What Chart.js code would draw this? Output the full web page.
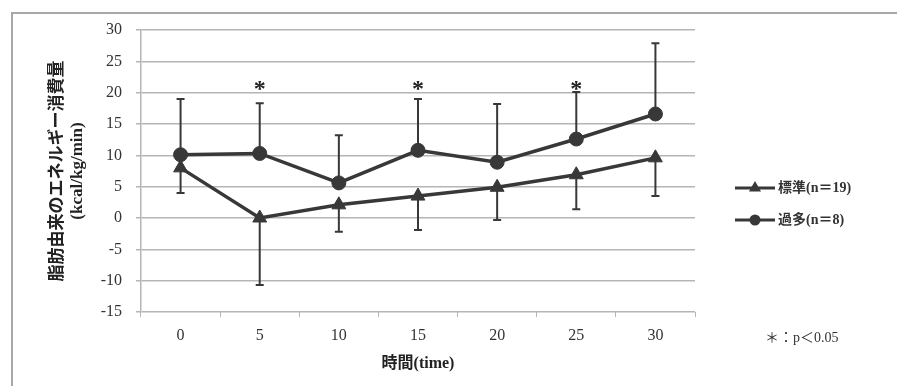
<!DOCTYPE html>
<html lang="ja">

<head>
    <meta charset="UTF-8">
    <title>脂肪由来のエネルギー消費量</title>
    <style>
        * {
            margin: 0;
            padding: 0;
            box-sizing: border-box;
        }

        body {
            background-color: #fff;
            width: 897px;
            height: 386px;
            overflow: hidden;
            position: relative;
        }

        .frame {
            position: absolute;
            left: 11px;
            top: 12px;
            right: 0;
            bottom: 0;
            border-top: 2px solid #a8a8a8;
            border-left: 2px solid #a8a8a8;
        }

        #chartWrap {
            position: absolute;
            left: 0;
            top: 0;
            width: 897px;
            height: 386px;
        }
    </style>
</head>

<body>
    <div class="frame"></div>
    <div id="chartWrap"><canvas id="fatChart"></canvas></div>

    <script src="https://cdn.jsdelivr.net/npm/chart.js"></script>
    <script>
        // 時間(分)
        const timeLabels = ['0', '5', '10', '15', '20', '25', '30'];
        // 標準群 平均と標準偏差(下向きの誤差棒)
        const standardMean = [8.0, 0.0, 2.1, 3.5, 4.9, 6.9, 9.6];
        const standardSD = [4.0, 10.7, 4.3, 5.4, 5.2, 5.5, 6.1];
        // 過多群 平均と標準偏差(上向きの誤差棒)
        const overMean = [10.1, 10.3, 5.6, 10.8, 8.9, 12.6, 16.6];
        const overSD = [8.9, 8.0, 7.6, 8.2, 9.3, 7.5, 11.3];
        // 有意差のある時点
        const sigTimes = ['5', '15', '25'];
        const sigLevel = 21.3;
        const yTicks = [30, 25, 20, 15, 10, 5, 0, -5, -10, -15];

        const lineColor = '#383838';
        const serif = '"Liberation Serif", "Noto Sans CJK JP", serif';

        // 誤差棒と＊を描く
        const errorBarPlugin = {
            id: 'errorBars',
            beforeDatasetsDraw(chart) {
                const ctx = chart.ctx;
                const x = chart.scales.x;
                const y = chart.scales.y;
                const bars = [
                    { mean: standardMean, sd: standardSD, dir: -1 },
                    { mean: overMean, sd: overSD, dir: 1 }
                ];
                ctx.save();
                ctx.strokeStyle = lineColor;
                ctx.lineWidth = 2;
                bars.forEach(b => {
                    b.mean.forEach((m, i) => {
                        const px = x.getPixelForValue(i);
                        const y0 = y.getPixelForValue(m);
                        const y1 = y.getPixelForValue(m + b.dir * b.sd[i]);
                        ctx.beginPath();
                        ctx.moveTo(px, y0);
                        ctx.lineTo(px, y1);
                        ctx.moveTo(px - 4, y1);
                        ctx.lineTo(px + 4, y1);
                        ctx.stroke();
                    });
                });
                ctx.fillStyle = '#222';
                ctx.font = 'bold 24px "Liberation Serif"';
                ctx.textAlign = 'center';
                ctx.textBaseline = 'middle';
                sigTimes.forEach(t => {
                    const px = x.getPixelForValue(timeLabels.indexOf(t));
                    ctx.fillText('*', px, y.getPixelForValue(sigLevel) + 5);
                });
                ctx.restore();
            },
            afterDraw(chart) {
                const ctx = chart.ctx;
                const area = chart.chartArea;
                const lx = area.right + 40;
                const items = chart.data.datasets.map((ds, i) => ({
                    text: ds.label,
                    style: ds.pointStyle,
                    y: 188 + i * 32
                }));
                ctx.save();
                items.forEach(it => {
                    ctx.strokeStyle = lineColor;
                    ctx.fillStyle = lineColor;
                    ctx.lineWidth = 3;
                    ctx.beginPath();
                    ctx.moveTo(lx, it.y);
                    ctx.lineTo(lx + 40, it.y);
                    ctx.stroke();
                    Chart.helpers.drawPoint(ctx, {
                        pointStyle: it.style,
                        radius: 4,
                        borderWidth: 1
                    }, lx + 20, it.y);
                    ctx.fillStyle = '#333';
                    ctx.font = 'bold 14px ' + serif;
                    ctx.textAlign = 'left';
                    ctx.textBaseline = 'middle';
                    ctx.fillText(it.text, lx + 43, it.y);
                });
                ctx.font = '14px ' + serif;
                ctx.fillStyle = '#333';
                ctx.fillText('＊：p＜0.05', lx + 30, 338);
                ctx.restore();
            }
        };

        const ctx = document.getElementById('fatChart').getContext('2d');

        const fatChart = new Chart(ctx, {
            type: 'line',
            data: {
                labels: timeLabels,
                datasets: [{
                    label: '標準(n＝19)',
                    data: standardMean,
                    borderColor: lineColor,
                    backgroundColor: lineColor,
                    borderWidth: 3.5,
                    pointStyle: 'triangle',
                    pointRadius: 8,
                    pointBorderWidth: 1,
                    tension: 0
                }, {
                    label: '過多(n＝8)',
                    data: overMean,
                    borderColor: lineColor,
                    backgroundColor: lineColor,
                    borderWidth: 3.5,
                    pointStyle: 'circle',
                    pointRadius: 7,
                    pointBorderWidth: 1,
                    tension: 0
                }]
            },
            options: {
                responsive: true,
                maintainAspectRatio: false,
                animation: false,
                layout: {
                    padding: { left: 0, right: 202, top: 30, bottom: 0 }
                },
                plugins: {
                    legend: { display: false },
                    tooltip: { enabled: false }
                },
                scales: {
                    x: {
                        offset: true,
                        afterFit(scale) { scale.height = 74; },
                        grid: {
                            drawOnChartArea: false,
                            offset: true,
                            tickLength: 5,
                            color: '#b5b5b5'
                        },
                        border: { display: false },
                        ticks: {
                            color: '#333',
                            padding: 9,
                            font: { family: serif, size: 16 }
                        },
                        title: {
                            display: true,
                            text: '時間(time)',
                            color: '#222',
                            padding: { top: 0, bottom: 13 },
                            font: { family: serif, size: 16, weight: 'bold' }
                        }
                    },
                    y: {
                        min: -15,
                        max: 30,
                        afterFit(scale) { scale.width = 141; },
                        afterBuildTicks(scale) {
                            scale.ticks = yTicks.map(v => ({ value: v }));
                        },
                        grid: {
                            color: '#b5b5b5',
                            lineWidth: 1.5,
                            tickLength: 5
                        },
                        border: { display: true, color: '#b5b5b5', width: 1.5 },
                        ticks: {
                            color: '#333',
                            padding: 14,
                            font: { family: serif, size: 16 }
                        },
                        title: {
                            display: true,
                            text: ['脂肪由来のエネルギー消費量', '(kcal/kg/min)'],
                            color: '#222',
                            padding: { top: 47, bottom: 0 },
                            font: { family: serif, size: 17, weight: 'bold' }
                        }
                    }
                }
            },
            plugins: [errorBarPlugin]
        });
    </script>
</body>

</html>
